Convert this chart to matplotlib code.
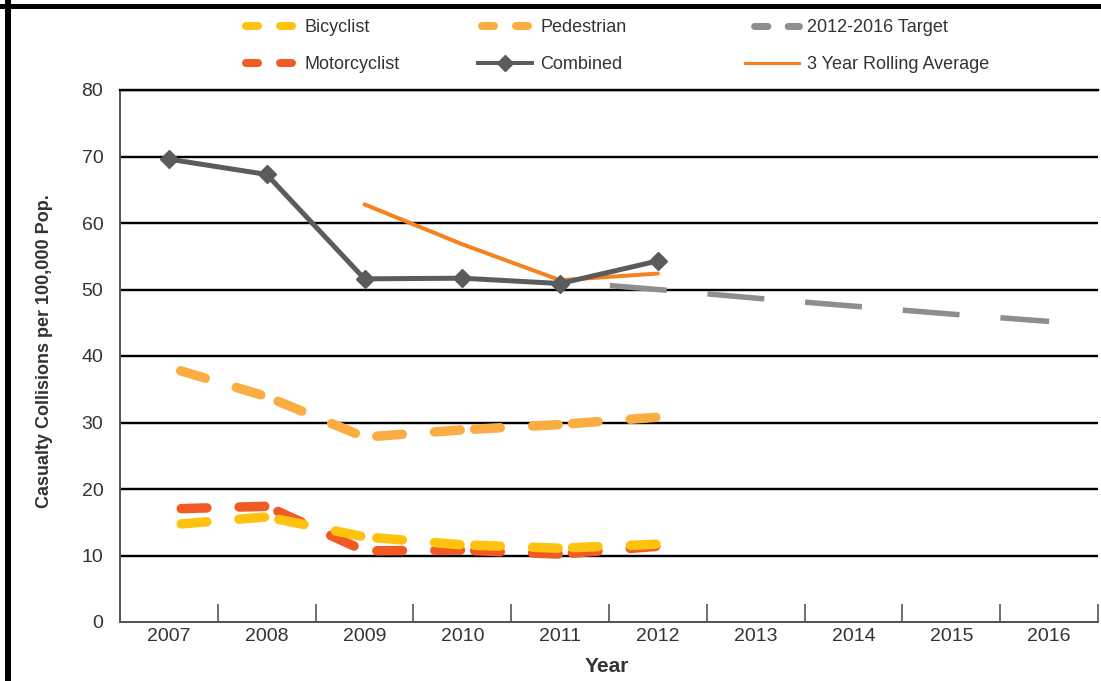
import numpy as np
import matplotlib
matplotlib.use('Agg')
import matplotlib.pyplot as plt
from matplotlib.lines import Line2D
from matplotlib.patches import Rectangle

plt.rcParams['font.family'] = ['Liberation Sans Narrow', 'Liberation Sans', 'DejaVu Sans']

# casualty collisions per 100,000 population
years = ['2007', '2008', '2009', '2010', '2011', '2012', '2013', '2014', '2015', '2016']
bicyclist = [14.6, 15.8, 12.8, 11.6, 11.1, 11.7]
pedestrian = [38.3, 33.9, 27.8, 28.9, 29.7, 30.8]
motorcyclist = [17.0, 17.4, 10.7, 10.8, 10.2, 11.4]
combined = [69.6, 67.3, 51.6, 51.7, 50.9, 54.3]
rolling_avg = [62.8, 56.8, 51.4, 52.4]          # 2009-2012
target = [51.2, 50.0, 48.7, 47.5, 46.3, 45.2]   # anchored at 2011, runs to 2016

C_BIKE = '#FFC20E'
C_PED = '#FBAD42'
C_MOTO = '#F15A24'
C_TARGET = '#8E8E8E'
C_COMB = '#5A5B5D'
C_ROLL = '#F5821F'
TXT = '#333333'

PX = 0.72  # points per pixel at dpi 100

x = np.arange(len(years))

fig = plt.figure(figsize=(11.01, 6.81), dpi=100)
ax = fig.add_axes([120 / 1101, 59 / 681, 978 / 1101, 532 / 681])

# thick dashed series, dash pattern restarts on every segment
SER_LW = 9.5 * PX
SER_DASH = (4.8, (2.7, 3.4))


def dashed_series(vals, color, z):
    for i in range(len(vals) - 1):
        ax.plot(x[i:i + 2], vals[i:i + 2], color=color, lw=SER_LW,
                linestyle=SER_DASH, dash_capstyle='round', zorder=z)


dashed_series(pedestrian, C_PED, 3)
dashed_series(motorcyclist, C_MOTO, 3.1)
dashed_series(bicyclist, C_BIKE, 3.2)

ax.plot(x[4:4 + len(target)], target, color=C_TARGET, lw=5.5 * PX,
        linestyle=(8.73, (10.36, 7.45)), dash_capstyle='butt', zorder=3.3)
ax.plot(x[2:2 + len(rolling_avg)], rolling_avg, color=C_ROLL, lw=4 * PX,
        solid_capstyle='round', zorder=3.4)
ax.plot(x[:len(combined)], combined, color=C_COMB, lw=5 * PX, marker='D',
        markersize=9, markeredgecolor=C_COMB, zorder=3.5)

ax.set_xlim(-0.5, len(years) - 0.5)
ax.set_ylim(0, 80)

ax.set_yticks(range(0, 81, 10))
ax.set_xticks(x)
ax.set_xticklabels(years)
ax.set_xticks(np.arange(-0.5, len(years)), minor=True)
ax.tick_params(axis='y', length=0, pad=12, labelsize=14, labelcolor=TXT)
ax.tick_params(axis='x', which='major', length=0, pad=4, labelsize=14, labelcolor=TXT)
ax.tick_params(axis='x', which='minor', direction='in', length=18 * PX,
               width=1.5 * PX, color='#444444')

ax.set_axisbelow(True)
ax.yaxis.grid(True, color='black', lw=2.4 * PX)
ax.yaxis.get_gridlines()[0].set_visible(False)

ax.spines['right'].set_visible(False)
ax.spines['top'].set_color('black')
ax.spines['top'].set_linewidth(2.4 * PX)
ax.spines['left'].set_color('#555555')
ax.spines['left'].set_linewidth(2 * PX)
ax.spines['bottom'].set_color('#555555')
ax.spines['bottom'].set_linewidth(2 * PX)

ax.set_ylabel('Casualty Collisions per 100,000 Pop.', fontsize=13, fontweight='bold',
              color=TXT)
ax.yaxis.set_label_coords(-0.069, 0.51)
ax.set_xlabel('Year', fontsize=15, fontweight='bold', color=TXT)
ax.xaxis.set_label_coords(0.498, -0.066)

# legend proxies
LEG_DASH = dict(linestyle=(3.75, (1.5, 2.75)), dash_capstyle='round')
h_bike = Line2D([], [], color=C_BIKE, lw=8 * PX, **LEG_DASH)
h_moto = Line2D([], [], color=C_MOTO, lw=8 * PX, **LEG_DASH)
h_ped = Line2D([], [], color=C_PED, lw=8 * PX, **LEG_DASH)
h_comb = Line2D([], [], color=C_COMB, lw=4 * PX, marker='D', markersize=8)
h_target = Line2D([], [], color=C_TARGET, lw=7 * PX,
                  linestyle=(3.5, (1.9, 2.9)), dash_capstyle='round')
h_roll = Line2D([], [], color=C_ROLL, lw=3 * PX)

leg_kw = dict(loc='upper left', frameon=False, fontsize=13, borderpad=0,
              borderaxespad=0, handlelength=3.0, handletextpad=0.45,
              labelspacing=1.12, labelcolor=TXT)
fig.legend([h_bike, h_moto], ['Bicyclist', 'Motorcyclist'],
           bbox_to_anchor=(242 / 1101, 1 - 19 / 681), **leg_kw)
fig.legend([h_ped, h_comb], ['Pedestrian', 'Combined'],
           bbox_to_anchor=(478 / 1101, 1 - 19 / 681), **leg_kw)
fig.legend([h_target, h_roll], ['2012-2016 Target', '3 Year Rolling Average'],
           bbox_to_anchor=(745 / 1101, 1 - 19 / 681), **leg_kw)

# black frame bars on the top and left edges
fig.add_artist(Rectangle((5 / 1101, 0), 6 / 1101, 1, transform=fig.transFigure,
                         color='black', lw=0))
fig.add_artist(Rectangle((0, 1 - 9 / 681), 1, 5 / 681, transform=fig.transFigure,
                         color='black', lw=0))

fig.savefig('out.png', dpi=100)
